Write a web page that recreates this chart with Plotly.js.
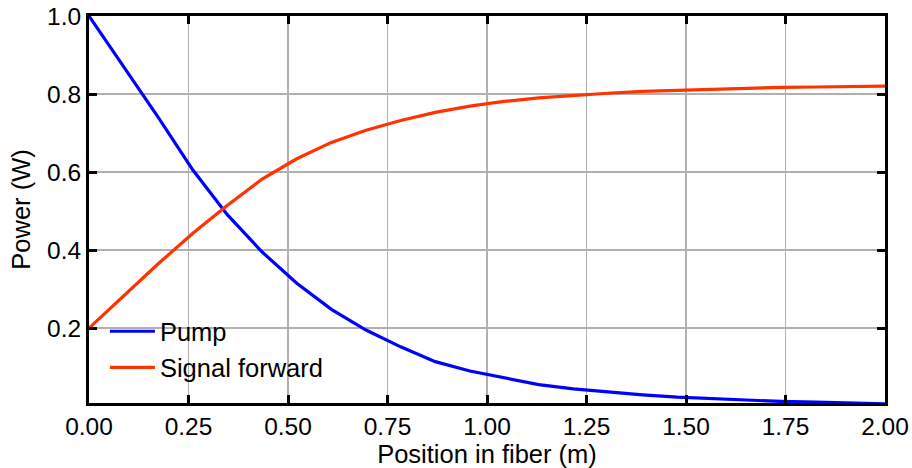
<!DOCTYPE html>
<html>
<head>
<meta charset="utf-8">
<script src="https://cdn.plot.ly/plotly-3.0.1.min.js"></script>
<style>html,body{margin:0;padding:0;background:#fff;}#chart{width:912px;height:468px;}</style>
</head>
<body>
<div id="chart"></div>
<script>
const position = [0, 0.087, 0.174, 0.261, 0.348, 0.435, 0.522, 0.609, 0.696, 0.783, 0.870, 0.957, 1.043, 1.130, 1.217, 1.304, 1.391, 1.478, 1.565, 1.652, 1.739, 1.826, 1.913, 2.0];
const pump = [1.0, 0.87, 0.74, 0.605, 0.49, 0.395, 0.315, 0.248, 0.195, 0.152, 0.114, 0.090, 0.073, 0.055, 0.044, 0.036, 0.029, 0.023, 0.019, 0.015, 0.012, 0.010, 0.008, 0.006];
const signalForward = [0.2, 0.283, 0.365, 0.443, 0.515, 0.582, 0.634, 0.676, 0.707, 0.732, 0.753, 0.769, 0.781, 0.790, 0.797, 0.802, 0.807, 0.810, 0.813, 0.815, 0.817, 0.818, 0.819, 0.820];
const xTicks = [0, 0.25, 0.5, 0.75, 1.0, 1.25, 1.5, 1.75, 2.0];
const xTickLabels = ["0.00", "0.25", "0.50", "0.75", "1.00", "1.25", "1.50", "1.75", "2.00"];
const yTicks = [0.2, 0.4, 0.6, 0.8, 1.0];
const yTickLabels = ["0.2", "0.4", "0.6", "0.8", "1.0"];

const family = "Liberation Sans, Arial, sans-serif";
const tickFont = {family: family, size: 24.5, color: "#000"};
const titleFont = {family: family, size: 25.5, color: "#000"};

const traces = [
  {x: position, y: pump, name: "Pump", mode: "lines", line: {color: "#0000ff", width: 3.2}},
  {x: position, y: signalForward, name: "Signal forward", mode: "lines", line: {color: "#ff3300", width: 3.2}}
];

const axisCommon = {
  showline: true, linecolor: "#000", linewidth: 3, mirror: "ticks",
  ticks: "inside", ticklen: 8, tickwidth: 3, tickcolor: "#000",
  showgrid: true, gridcolor: "#b0b0b0", gridwidth: 1.5,
  zeroline: false, tickfont: tickFont
};

const layout = {
  width: 912, height: 468,
  margin: {l: 89, r: 27, t: 16, b: 65},
  paper_bgcolor: "#fff", plot_bgcolor: "#fff",
  font: titleFont,
  showlegend: true,
  legend: {x: 0.02, y: 0.245, xanchor: "left", yanchor: "top", bgcolor: "rgba(0,0,0,0)", borderwidth: 0, font: titleFont, itemwidth: 45, tracegroupgap: 0},
  xaxis: Object.assign({}, axisCommon, {
    range: [0, 2], tickmode: "array", tickvals: xTicks, ticktext: xTickLabels,
    title: {text: "Position in fiber (m)", font: titleFont, standoff: 6}
  }),
  yaxis: Object.assign({}, axisCommon, {
    range: [0.008, 1.0], tickmode: "array", tickvals: yTicks, ticktext: yTickLabels,
    title: {text: "Power (W)", font: titleFont, standoff: 10}
  })
};

Plotly.newPlot("chart", traces, layout, {displayModeBar: false, staticPlot: true});
</script>
</body>
</html>
